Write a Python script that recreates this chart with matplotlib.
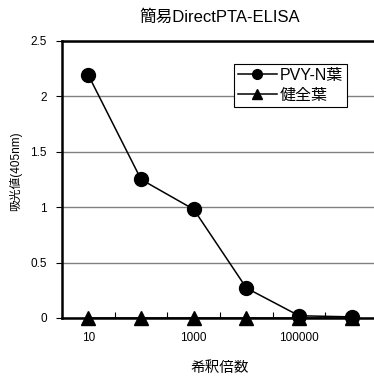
import matplotlib
matplotlib.use("Agg")
import matplotlib.pyplot as plt

plt.rcParams['font.family'] = ['Liberation Sans', 'Noto Sans CJK JP']

# data
dilutions = ["10", "100", "1000", "10000", "100000", "1000000"]
pvy_n = [2.19, 1.25, 0.98, 0.27, 0.02, 0.01]
healthy = [0, 0, 0, 0, 0, 0]
shown_labels = ["10", "", "1000", "", "100000", ""]
y_ticks = [0, 0.5, 1, 1.5, 2, 2.5]

fig = plt.figure(figsize=(3.74, 3.79), dpi=100)
ax = fig.add_axes([0.166, 0.161, 0.845, 0.731])

x = list(range(len(dilutions)))
ax.plot(x, pvy_n, color='black', lw=1.1, marker='o', ms=10,
        label='PVY-N葉', clip_on=False, zorder=4)
ax.plot(x, healthy, color='black', lw=1.1, marker='^', ms=10.5,
        label='健全葉', clip_on=False, zorder=3)

ax.set_xlim(-0.5, len(dilutions) - 0.5)
ax.set_ylim(0, 2.5)
ax.set_yticks(y_ticks)
ax.set_yticklabels(["0", "0.5", "1", "1.5", "2", "2.5"])
ax.set_xticks(x)
ax.set_xticklabels(shown_labels)
ax.tick_params(axis='x', length=0, pad=10, labelsize=8.5)
ax.set_xticks([i + 0.5 for i in x[:-1]], minor=True)
ax.tick_params(axis='x', which='minor', direction='in', length=4, width=0.8)
ax.tick_params(axis='y', direction='out', length=4, width=0.8, labelsize=8.5, pad=7)

ax.grid(axis='y', color='#808080', lw=1.0)
ax.set_axisbelow(True)
for s in ax.spines.values():
    s.set_linewidth(1.8)

ax.set_title('簡易DirectPTA-ELISA', fontsize=12, pad=14)
ax.set_ylabel('吸光値(405nm)', fontsize=8.5)
ax.yaxis.set_label_coords(-0.127, 0.53)
ax.set_xlabel('希釈倍数', fontsize=10.5, labelpad=12)

leg = ax.legend(loc='upper left', bbox_to_anchor=(0.545, 0.917), fontsize=11.5,
                frameon=True, fancybox=False, edgecolor='black',
                handlelength=2.4, borderpad=0.25, labelspacing=0.3,
                handletextpad=0.2, borderaxespad=0, markerscale=0.7)
leg.get_frame().set_linewidth(0.8)
leg.get_frame().set_alpha(1)

fig.savefig('out.png', dpi=100)
